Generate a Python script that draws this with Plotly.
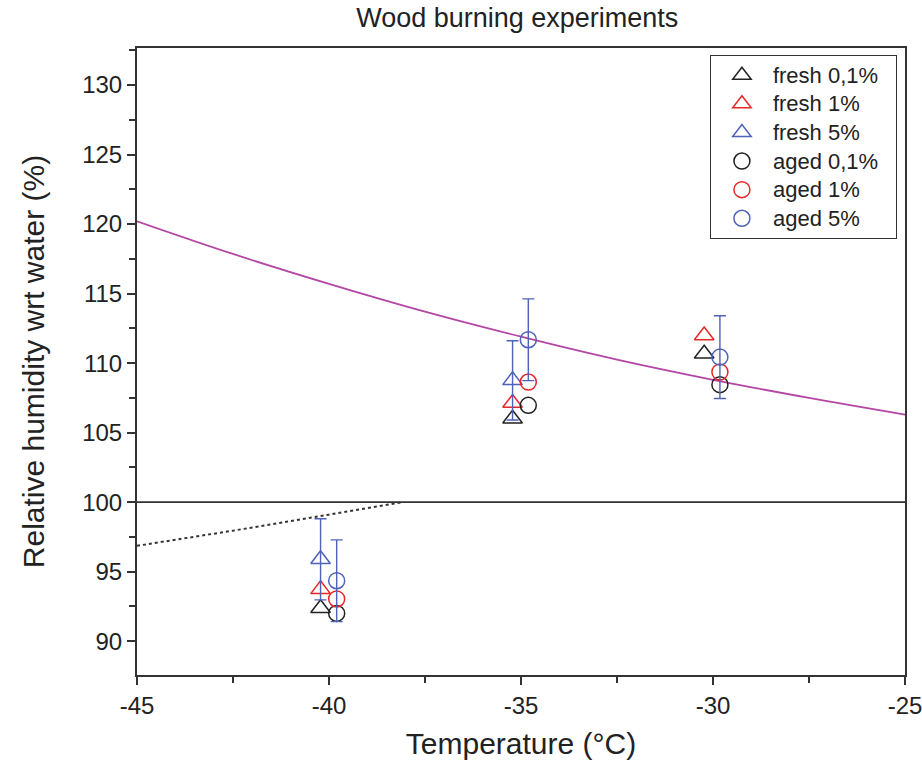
import plotly.graph_objects as go

# ---- data ----
t_fresh = [-40.22, -35.22, -30.23]
t_aged = [-39.80, -34.81, -29.82]

fresh_01 = [92.37, 106.0, 110.67]
fresh_1 = [93.73, 107.13, 111.99]
t_fresh5 = [-40.22, -35.22]
fresh_5 = [95.89, 108.76]
fresh_5_err = [2.92, 2.85]

aged_01 = [92.0, 106.96, 108.45]
aged_1 = [93.04, 108.64, 109.36]
aged_5 = [94.35, 111.68, 110.43]
aged_5_err = [2.94, 2.94, 2.98]

curve_t = [-45, -42.5, -40, -37.5, -35, -32.5, -30, -27.5, -25]
curve_rh = [120.2, 117.85, 115.7, 113.7, 111.9, 110.25, 108.8, 107.5, 106.3]

dot_t = [-45, -42.5, -40, -38.07]
dot_rh = [96.86, 97.95, 99.1, 100.0]

ref_t = [-45, -25]
ref_rh = [100, 100]

x_ticks = [-45, -40, -35, -30, -25]
x_labels = ["-45", "-40", "-35", "-30", "-25"]
y_ticks = [90, 95, 100, 105, 110, 115, 120, 125, 130]
y_labels = [str(v) for v in y_ticks]

BLACK = "#222222"
RED = "#e8262a"
BLUE = "#4d62b8"
MAGENTA = "#b446a6"
FONT = "Liberation Sans, Arial, sans-serif"

fig = go.Figure()

fig.add_trace(go.Scatter(x=curve_t, y=curve_rh, mode="lines", line=dict(color=MAGENTA, width=1.8, shape="spline"),
                         showlegend=False, hoverinfo="skip"))
fig.add_trace(go.Scatter(x=dot_t, y=dot_rh, mode="lines", line=dict(color="#333333", width=2, dash="dot"),
                         showlegend=False, hoverinfo="skip"))
fig.add_trace(go.Scatter(x=ref_t, y=ref_rh, mode="lines", line=dict(color="#333333", width=1.8),
                         showlegend=False, hoverinfo="skip"))

tri = dict(symbol="triangle-up-open", size=17)
circ = dict(symbol="circle-open", size=16)

def add(name, x, y, color, sym, err=None):
    m = dict(sym)
    m["color"] = color
    m["line"] = dict(width=1.5, color=color)
    kw = {}
    if err is not None:
        kw["error_y"] = dict(type="data", array=err, visible=True, color=BLUE, thickness=1.4, width=6)
    label = '<span style="font-size:22px">' + name + '\u00a0\u00a0</span>'
    fig.add_trace(go.Scatter(x=x, y=y, mode="markers", name=label, marker=m, **kw))

add("fresh 0,1%", t_fresh, fresh_01, BLACK, tri)
add("fresh 1%", t_fresh, fresh_1, RED, tri)
add("fresh 5%", t_fresh5, fresh_5, BLUE, tri, fresh_5_err)
add("aged 0,1%", t_aged, aged_01, BLACK, circ)
add("aged 1%", t_aged, aged_1, RED, circ)
add("aged 5%", t_aged, aged_5, BLUE, circ, aged_5_err)

axis_common = dict(
    showline=True, linecolor="#333333", linewidth=2, mirror=True,
    ticks="outside", ticklen=8, tickwidth=2, tickcolor="#333333",
    showgrid=False, zeroline=False, automargin=False,
    tickfont=dict(family=FONT, size=24, color="#222222"),
)

fig.update_xaxes(range=[-45, -25], tickvals=x_ticks, ticktext=x_labels, ticklabeloverflow="allow",
                 minor=dict(dtick=2.5, tick0=-45, ticks="outside", ticklen=6, tickwidth=2, tickcolor="#333333"),
                 title=dict(text="Temperature (°C)", font=dict(family=FONT, size=30, color="#222222"), standoff=15),
                 **axis_common)
fig.update_yaxes(range=[87.57, 132.66], tickvals=y_ticks, ticktext=y_labels,
                 minor=dict(dtick=2.5, tick0=90, ticks="outside", ticklen=6, tickwidth=2, tickcolor="#333333"),
                 title=dict(text="Relative humidity wrt water (%)", font=dict(family=FONT, size=30, color="#222222"), standoff=29),
                 **axis_common)

fig.update_layout(
    width=922, height=767,
    margin=dict(l=137, r=17, t=48, b=92),
    paper_bgcolor="white", plot_bgcolor="white",
    title=dict(text="Wood burning experiments", x=0.561, xanchor="center", y=0.977, yanchor="middle",
               font=dict(family=FONT, size=27, color="#222222")),
    legend=dict(x=0.746, y=0.989, xanchor="left", yanchor="top",
                bordercolor="#333333", borderwidth=1, bgcolor="white",
                font=dict(family=FONT, size=19.7, color="#222222"),
                tracegroupgap=0, itemwidth=52),
    showlegend=True,
)

fig.write_html("out.html")
